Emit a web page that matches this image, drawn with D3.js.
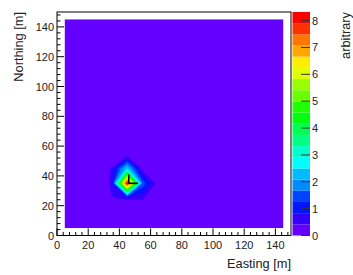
<!DOCTYPE html>
<html><head><meta charset="utf-8">
<script src="https://cdn.jsdelivr.net/npm/d3@7"></script>
<style>html,body{margin:0;padding:0;background:#fff}svg{display:block;font-family:"Liberation Sans",Arial,Helvetica,sans-serif}</style>
</head><body><svg id="c" width="353" height="275"></svg>
<script>
// ---- data ----
const eastingCenters = d3.range(5, 150, 10);   // bin centres [m]
const northingCenters = d3.range(5, 150, 10);  // bin centres [m]
// intensity rows, bottom row first (northing 5 .. 145), columns easting 5 .. 145
const intensity = [
 [0,0,0,0,0,0,0,0,0,0,0,0,0,0,0],
 [0,0,0,0,0,0,0,0,0,0,0,0,0,0,0],
 [0,0,0,0.4,0.45,0.45,0,0,0,0,0,0,0,0,0],
 [0,0,0,0.5,8.32,1.5,0.15,0,0,0,0,0,0,0,0],
 [0,0,0,0.45,2.5,0.2,0,0,0,0,0,0,0,0,0],
 [0,0,0,0,0,0,0,0,0,0,0,0,0,0,0],
 [0,0,0,0,0,0,0,0,0,0,0,0,0,0,0],
 [0,0,0,0,0,0,0,0,0,0,0,0,0,0,0],
 [0,0,0,0,0,0,0,0,0,0,0,0,0,0,0],
 [0,0,0,0,0,0,0,0,0,0,0,0,0,0,0],
 [0,0,0,0,0,0,0,0,0,0,0,0,0,0,0],
 [0,0,0,0,0,0,0,0,0,0,0,0,0,0,0],
 [0,0,0,0,0,0,0,0,0,0,0,0,0,0,0],
 [0,0,0,0,0,0,0,0,0,0,0,0,0,0,0],
 [0,0,0,0,0,0,0,0,0,0,0,0,0,0,0]
];
const zMin = 0, zMax = 8.32, nLevels = 20;
const axisTicks = [0,20,40,60,80,100,120,140];
const zTicks = [0,1,2,3,4,5,6,7,8];
const markerSegments = [ [[46,35],[46,41]], [[46,35],[52,35]] ];
const xTitle = "Easting [m]", yTitle = "Northing [m]", zTitle = "arbitrary";

// ---- layout ----
const svg = d3.select("#c");
const fx0 = 57, fx1 = 291, fy0 = 12, fy1 = 235.5;
const x = d3.scaleLinear().domain([0,150]).range([fx0,fx1]);
const y = d3.scaleLinear().domain([0,150]).range([fy1,fy0]);
const z = d3.scaleLinear().domain([zMin,zMax]).range([fy1,fy0]);
const levels = d3.range(nLevels).map(k => zMin + k*(zMax-zMin)/nLevels);
function levelColor(k){
  const idx = Math.floor((k+0.99)*50/nLevels);
  const hue = 280 - (idx+1)*(280/50);
  return d3.hsl(hue,1,0.5).formatHex();
}

// frame
svg.append("rect").attr("x",fx0).attr("y",fy0).attr("width",fx1-fx0).attr("height",fy1-fy0)
  .attr("fill","#fff").attr("stroke","#000").attr("stroke-width",1);

// base band
const ex0 = d3.min(eastingCenters), ex1 = d3.max(eastingCenters);
const ny0 = d3.min(northingCenters), ny1 = d3.max(northingCenters);
svg.append("rect").attr("x",x(ex0)).attr("y",y(ny1)).attr("width",x(ex1)-x(ex0)).attr("height",y(ny0)-y(ny1))
  .attr("fill",levelColor(0));

// contours
const nx = eastingCenters.length, ny = northingCenters.length;
const flat = [];
for (let j=0;j<ny;j++) for (let i=0;i<nx;i++) flat.push(intensity[j][i]);
const gen = d3.contours().size([nx,ny]).thresholds(levels.slice(1));
const contours = gen(flat);
const dx = (ex1-ex0)/(nx-1), dy = (ny1-ny0)/(ny-1);
const proj = d3.geoTransform({point:function(cx,cy){
  this.stream.point(x(ex0 + (cx-0.5)*dx), y(ny0 + (cy-0.5)*dy));
}});
const path = d3.geoPath(proj);
svg.append("g").selectAll("path").data(contours).join("path")
  .attr("d", path).attr("fill",(d,k)=>levelColor(k+1)).attr("stroke","none");

// markers
svg.append("g").selectAll("line").data(markerSegments).join("line")
  .attr("x1",d=>x(d[0][0])).attr("y1",d=>y(d[0][1])).attr("x2",d=>x(d[1][0])).attr("y2",d=>y(d[1][1]))
  .attr("stroke","#000").attr("stroke-width",1.6);

// axes ticks (inside)
const g = svg.append("g").attr("stroke","#000").attr("stroke-width",1);
const minor = d3.range(0,151,4);
minor.forEach(v=>{
  const big = axisTicks.includes(v);
  const L = big?7:3.5;
  g.append("line").attr("x1",x(v)).attr("x2",x(v)).attr("y1",fy1).attr("y2",fy1-L);
  g.append("line").attr("y1",y(v)).attr("y2",y(v)).attr("x1",fx0).attr("x2",fx0+L);
});
const fs = 11;
svg.append("g").selectAll("text").data(axisTicks).join("text")
  .attr("x",d=>x(d)).attr("y",fy1+13).attr("text-anchor","middle").attr("font-size",fs).attr("fill","#222").text(d=>d);
svg.append("g").selectAll("text").data(axisTicks).join("text")
  .attr("x",fx0-3).attr("y",d=>y(d)+4).attr("text-anchor","end").attr("font-size",fs).attr("fill","#222").text(d=>d);
svg.append("text").attr("x",fx1).attr("y",268).attr("text-anchor","end").attr("font-size",12.8).attr("fill","#222").text(xTitle);
svg.append("text").attr("transform",`translate(23,${fy0}) rotate(-90)`).attr("text-anchor","end").attr("font-size",12.8).attr("fill","#222").text(yTitle);

// palette
const px0 = 292.5, px1 = 310;
svg.append("g").selectAll("rect").data(levels).join("rect")
  .attr("x",px0).attr("width",px1-px0)
  .attr("y",(d,k)=>z(zMin+(k+1)*(zMax-zMin)/nLevels)).attr("height",(fy1-fy0)/nLevels)
  .attr("fill",(d,k)=>levelColor(k));
svg.append("g").selectAll("line").data(zTicks).join("line")
  .attr("x1",px1-9).attr("x2",px1).attr("y1",d=>z(d)).attr("y2",d=>z(d)).attr("stroke","#333").attr("stroke-width",1);
svg.append("g").selectAll("text").data(zTicks).join("text")
  .attr("x",px1+2).attr("y",d=>z(d)+4).attr("font-size",fs).attr("fill","#222").text(d=>d);
svg.append("text").attr("transform",`translate(350,${fy0}) rotate(-90)`).attr("text-anchor","end").attr("font-size",12.8).attr("fill","#222").text(zTitle);
</script></body></html>
